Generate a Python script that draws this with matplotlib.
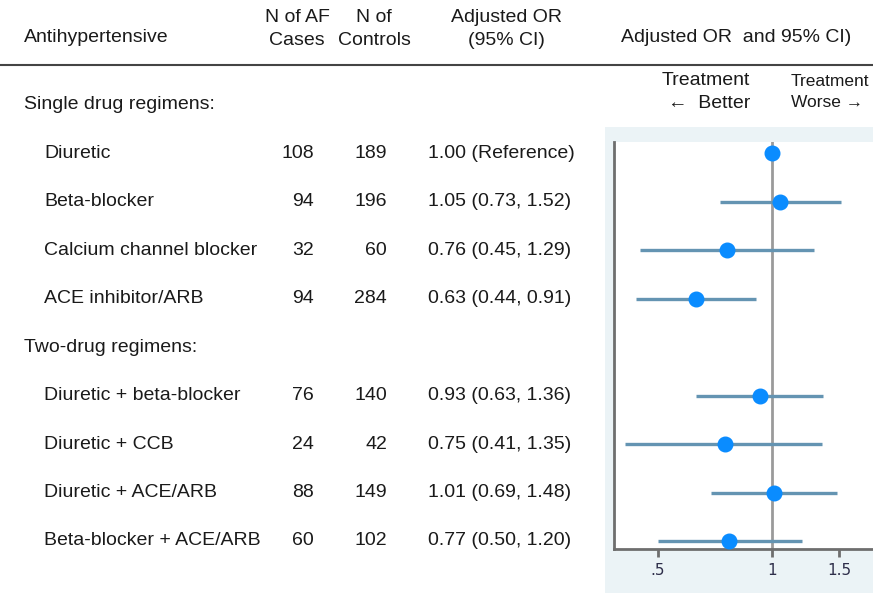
import matplotlib
matplotlib.use('Agg')
import matplotlib.pyplot as plt
import matplotlib.transforms as mtransforms
from matplotlib.patches import Rectangle
import numpy as np

# Daten
groups = ['Single drug regimens:', 'Two-drug regimens:']
drugs = [
    ['Diuretic', 'Beta-blocker', 'Calcium channel blocker', 'ACE inhibitor/ARB'],
    ['Diuretic + beta-blocker', 'Diuretic + CCB', 'Diuretic + ACE/ARB', 'Beta-blocker + ACE/ARB'],
]
af_cases = [[108, 94, 32, 94], [76, 24, 88, 60]]
controls = [[189, 196, 60, 284], [140, 42, 149, 102]]
odds = [[1.00, 1.05, 0.76, 0.63], [0.93, 0.75, 1.01, 0.77]]
ci_low = [[np.nan, 0.73, 0.45, 0.44], [0.63, 0.41, 0.69, 0.50]]
ci_high = [[np.nan, 1.52, 1.29, 0.91], [1.36, 1.35, 1.48, 1.20]]
or_labels = [['1.00 (Reference)', '1.05 (0.73, 1.52)', '0.76 (0.45, 1.29)', '0.63 (0.44, 0.91)'],
             ['0.93 (0.63, 1.36)', '0.75 (0.41, 1.35)', '1.01 (0.69, 1.48)', '0.77 (0.50, 1.20)']]
x_ticks = [0.5, 1, 1.5]
x_tick_labels = ['.5', '1', '1.5']

W, H = 873, 595
FONT = ['Liberation Sans', 'DejaVu Sans']
plt.rcParams['font.family'] = FONT
TXT = '#1a1a1a'

fig = plt.figure(figsize=(W / 100, H / 100), dpi=100)


def fx(x):
    return x / W


def fy(y):
    return 1 - y / H


# hellblauer Hintergrund fuer den Forest-Plot
bg = Rectangle((fx(605), fy(593)), fx(873) - fx(605), fy(127) - fy(593),
               transform=fig.transFigure, facecolor='#ebf3f6', edgecolor='none', zorder=-1)
fig.add_artist(bg)

ax = fig.add_axes([fx(614), fy(549), fx(873) - fx(614), fy(142) - fy(549)], zorder=1)
ax.set_facecolor('white')

# Zeilenpositionen: Gruppenkopf, dann die Medikamente
rows = []
row_idx = 0
for g in range(len(groups)):
    rows.append(('group', g, None, row_idx))
    row_idx += 1
    for k in range(len(drugs[g])):
        rows.append(('drug', g, k, row_idx))
        row_idx += 1

ys, xs, los, his = [], [], [], []
for kind, g, k, r in rows:
    if kind == 'drug':
        ys.append(r)
        xs.append(odds[g][k])
        los.append(ci_low[g][k])
        his.append(ci_high[g][k])
ys = np.array(ys)
los = np.array(los)
his = np.array(his)
ok = ~np.isnan(los)

ax.axvline(1, color='#9a9a9a', lw=2, zorder=1)
ax.hlines(ys[ok], los[ok], his[ok], color='#6494b2', lw=2.4, zorder=2)
ax.plot(xs, ys, 'o', color='#0a8cff', markersize=10.5, zorder=3)

ax.set_xscale('log')
ax.set_xlim(0.384, 1.844)
ax.set_ylim(9.166, 0.764)
ax.set_xticks(x_ticks)
ax.set_xticklabels(x_tick_labels)
ax.xaxis.set_minor_locator(matplotlib.ticker.NullLocator())
ax.set_yticks([])
for s in ['top', 'right']:
    ax.spines[s].set_visible(False)
for s in ['left', 'bottom']:
    ax.spines[s].set_color('#6e6e6e')
    ax.spines[s].set_linewidth(2)
ax.tick_params(axis='x', length=6, width=2, color='#6e6e6e', pad=4,
               labelsize=11, labelcolor='#2e2e4a')
for lab in ax.get_xticklabels():
    lab.set_family('DejaVu Sans')

# Tabelle links, y in Zeilen-Koordinaten der Achse
tr = mtransforms.blended_transform_factory(fig.transFigure, ax.transData)
fs = 14
for kind, g, k, r in rows:
    if kind == 'group':
        fig.text(fx(24), r, groups[g], transform=tr, ha='left', va='center', fontsize=fs, color=TXT)
    else:
        fig.text(fx(44), r, drugs[g][k], transform=tr, ha='left', va='center', fontsize=fs, color=TXT)
        fig.text(fx(314), r, str(af_cases[g][k]), transform=tr, ha='right', va='center', fontsize=fs, color=TXT)
        fig.text(fx(387), r, str(controls[g][k]), transform=tr, ha='right', va='center', fontsize=fs, color=TXT)
        fig.text(fx(428), r, or_labels[g][k], transform=tr, ha='left', va='center', fontsize=fs, color=TXT)

# Kopfzeile
fig.text(fx(24), fy(38), 'Antihypertensive', ha='left', va='center', fontsize=fs, color=TXT)
fig.text(fx(297), fy(29), 'N of AF\nCases', ha='center', va='center', multialignment='center',
         fontsize=fs, color=TXT, linespacing=1.45)
fig.text(fx(374), fy(29), 'N of\nControls', ha='center', va='center', multialignment='center',
         fontsize=fs, color=TXT, linespacing=1.45)
fig.text(fx(506), fy(29), 'Adjusted OR\n(95% CI)', ha='center', va='center', multialignment='center',
         fontsize=fs, color=TXT, linespacing=1.45)
fig.text(fx(736), fy(38), 'Adjusted OR  and 95% CI)', ha='center', va='center', fontsize=fs, color=TXT)
fig.add_artist(plt.Line2D([0, 1], [fy(65), fy(65)], transform=fig.transFigure, color='#444444', lw=1.5))

fig.text(fx(750), fy(92), 'Treatment\n\u2190  Better', ha='right', va='center', multialignment='right',
         fontsize=fs, color=TXT, linespacing=1.4)
fig.text(fx(791), fy(92), 'Treatment\nWorse \u2192', ha='left', va='center', multialignment='left',
         fontsize=12.5, color=TXT, linespacing=1.55)

fig.savefig('out.png', dpi=100)
